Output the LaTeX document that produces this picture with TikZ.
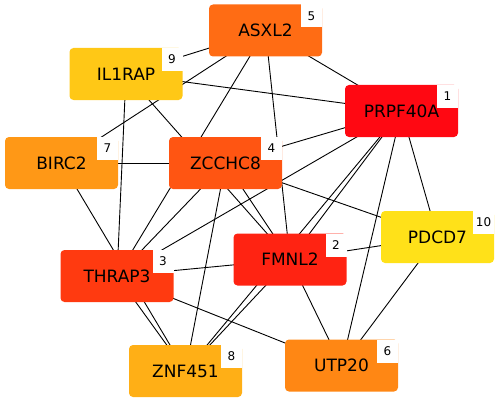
\documentclass[tikz,border=0pt]{standalone}
\usepackage{fontspec}
\setmainfont{DejaVu Sans}
\usetikzlibrary{backgrounds}
\definecolor{c1}{RGB}{255,8,18}
\definecolor{c2}{RGB}{255,35,18}
\definecolor{c3}{RGB}{255,58,16}
\definecolor{c4}{RGB}{255,85,18}
\definecolor{c5}{RGB}{255,108,20}
\definecolor{c6}{RGB}{255,135,20}
\definecolor{c7}{RGB}{255,152,22}
\definecolor{c8}{RGB}{255,175,22}
\definecolor{c9}{RGB}{255,200,22}
\definecolor{c10}{RGB}{255,225,25}
\tikzset{
  gbox/.style={rectangle, rounded corners=4pt, draw=none, minimum width=113pt, minimum height=52pt, inner sep=0pt},
  notch/.style={rectangle, fill=white, draw=none, minimum width=21pt, minimum height=23pt, inner sep=0pt, anchor=north east, font=\fontsize{12}{14}\selectfont},
  gtext/.style={inner sep=0pt, font=\fontsize{17}{20}\selectfont},
  edge/.style={draw=black, line width=0.9pt}
}
\newcommand{\gnode}[6]{%
  \node[gbox, fill=#4] (#1) at (#2,#3) {};
  \node[notch] (#1n) at (#1.north east) {#6};
  \node[gtext] (#1t) at (#1.center) {#5};
}
\begin{document}
\begin{tikzpicture}[x=1pt,y=-1pt]
\useasboundingbox (0,0) rectangle (498,404);
\gnode{prpf}{401.5}{111}{c1}{PRPF40A}{1}
\gnode{fmnl}{290}{259.5}{c2}{FMNL2}{2}
\gnode{thrap}{117}{276}{c3}{THRAP3}{3}
\gnode{zcchc}{225.5}{163}{c4}{ZCCHC8}{4}
\gnode{asxl}{265.5}{30.5}{c5}{ASXL2}{5}
\gnode{utp}{341.5}{365.5}{c6}{UTP20}{6}
\gnode{birc}{61.5}{163}{c7}{BIRC2}{7}
\gnode{znf}{185.5}{371}{c8}{ZNF451}{8}
\gnode{il}{126}{74}{c9}{IL1RAP}{9}
\gnode{pdcd}{437.5}{237}{c10}{PDCD7}{10}
\begin{pgfonlayer}{background}
\draw[edge] (il.center) -- (asxl.center);
\draw[edge] (il.center) -- (prpf.center);
\draw[edge] (il.center) -- (fmnl.center);
\draw[edge] (il.center) -- (thrap.center);
\draw[edge] (birc.center) -- (asxl.center);
\draw[edge] (birc.center) -- (zcchc.center);
\draw[edge] (birc.center) -- (znf.center);
\draw[edge] (asxl.center) -- (thrap.center);
\draw[edge] (asxl.center) -- (fmnl.center);
\draw[edge] (asxl.center) -- (prpf.center);
\draw[edge] (zcchc.center) -- (thrap.center);
\draw[edge] (zcchc.center) -- (znf.center);
\draw[edge] (zcchc.center) -- (fmnl.center);
\draw[edge] (zcchc.center) -- (prpf.center);
\draw[edge] (zcchc.center) -- (pdcd.center);
\draw[edge] (prpf.center) -- (thrap.center);
\draw[edge] (prpf.center) -- (fmnl.center);
\draw[edge] (prpf.center) -- (znf.center);
\draw[edge] (prpf.center) -- (utp.center);
\draw[edge] (prpf.center) -- (pdcd.center);
\draw[edge] (thrap.center) -- (fmnl.center);
\draw[edge] (thrap.center) -- (znf.center);
\draw[edge] (thrap.center) -- (utp.center);
\draw[edge] (fmnl.center) -- (znf.center);
\draw[edge] (fmnl.center) -- (utp.center);
\draw[edge] (fmnl.center) -- (pdcd.center);
\draw[edge] (pdcd.center) -- (utp.center);
\end{pgfonlayer}
\end{tikzpicture}
\end{document}
